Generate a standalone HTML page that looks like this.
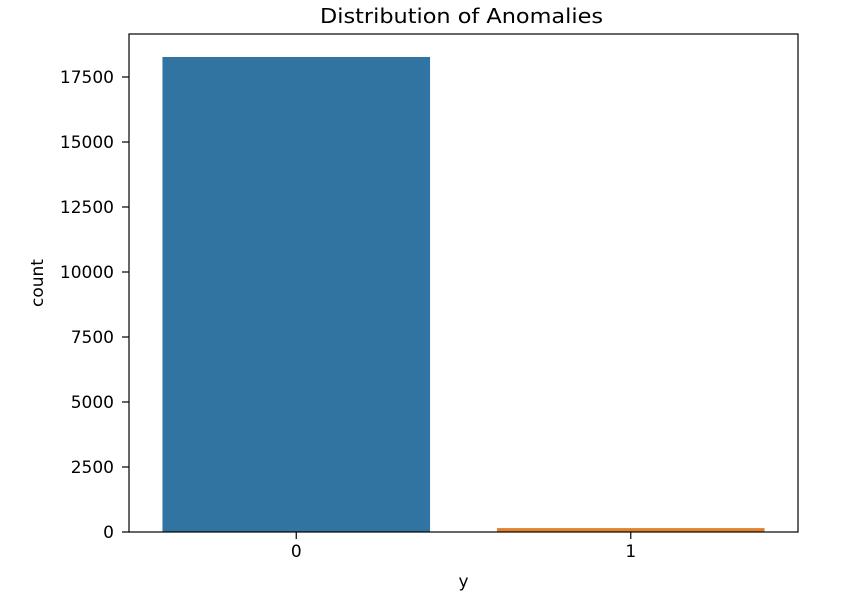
<!DOCTYPE html>
<html><head><meta charset="utf-8"><style>
body{margin:0;background:#fff;}
svg{display:block;font-family:"DejaVu Sans","Liberation Sans",sans-serif;}
</style></head><body>
<svg id="c" width="845" height="596"></svg>
<script>
const categories = ["0", "1"];
const counts = [18270, 150];
const colors = ["#3274a1", "#e1812c"];
const yTicks = [0, 2500, 5000, 7500, 10000, 12500, 15000, 17500];

const NS = "http://www.w3.org/2000/svg";
const svg = document.getElementById("c");
const L = 129, R = 798, T = 34, B = 532;
const y = v => B - v * (455 / 17500);
const x = i => L + (i + 0.5) * (R - L) / 2;
const bw = 0.8 * (R - L) / 2;
function mk(tag, attrs, text) {
  const e = document.createElementNS(NS, tag);
  for (const k in attrs) e.setAttribute(k, attrs[k]);
  if (text !== undefined) e.textContent = text;
  svg.appendChild(e);
  return e;
}
counts.forEach((v, i) => {
  const r = mk("rect", {x: x(i) - bw / 2, y: y(v), width: bw, height: B - y(v), fill: colors[i]});
  
  
});
const frame = mk("rect", {x: L, y: T, width: R - L, height: B - T, fill: "none", stroke: "#000", "stroke-width": 1.2});


yTicks.forEach(t => {
  mk("line", {x1: L - 7, x2: L, y1: y(t), y2: y(t), stroke: "#000", "stroke-width": 1.2});
  const tx = mk("text", {x: L - 15, y: y(t) + 6, "text-anchor": "end", "font-size": 17}, String(t));
  
  
});
categories.forEach((c, i) => {
  mk("line", {x1: x(i), x2: x(i), y1: B, y2: B + 7, stroke: "#000", "stroke-width": 1.2});
  const tx = mk("text", {x: x(i), y: B + 25, "text-anchor": "middle", "font-size": 17}, c);
  
  
});
const xt = mk("text", {x: (L + R) / 2, y: 587, "text-anchor": "middle", "font-size": 17}, "y");


const yt = mk("text", {x: 43, y: (T + B) / 2, "text-anchor": "middle", "font-size": 17, transform: "rotate(-90 43 " + ((T + B) / 2) + ")"}, "count");


const ti = mk("text", {x: 320, y: 23, "font-size": 20, textLength: 283, lengthAdjust: "spacingAndGlyphs"}, "Distribution of Anomalies");


</script>
</body></html>
